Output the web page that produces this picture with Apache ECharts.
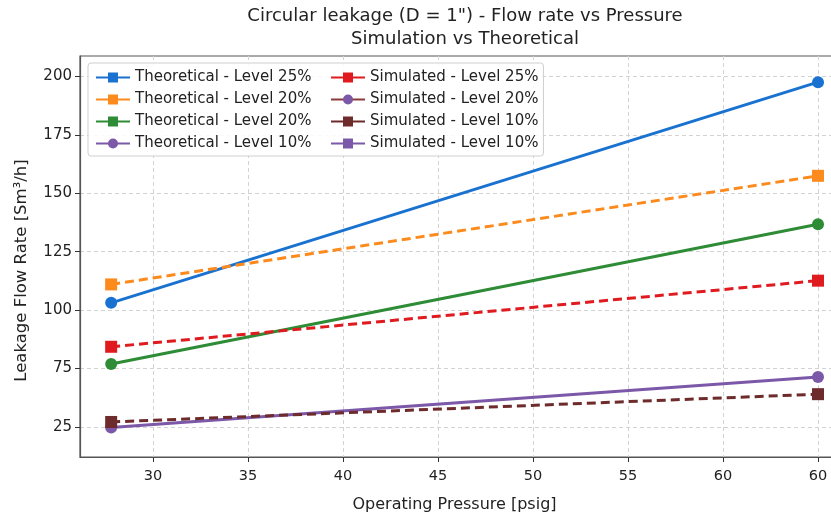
<!DOCTYPE html>
<html>
<head>
<meta charset="utf-8">
<script src="https://cdn.jsdelivr.net/npm/echarts@6/dist/echarts.min.js"></script>
<style>
  html, body { margin: 0; padding: 0; background: #fff; }
  #main { width: 831px; height: 515px; }
</style>
</head>
<body>
<div id="main"></div>
<script>
// x positions of the two measurements
var pressure = [27.8, 65];

// one array per series
var theo25 = [103.1, 197.6];
var theo20a = [111.0, 157.5];
var theo20b = [76.9, 136.8];
var theo10 = [49.7, 71.4];
var sim25 = [84.3, 112.6];
var sim20 = [];
var sim10a = [52.1, 64.0];
var sim10b = [];

var seriesLabels = [
    'Theoretical - Level 25%', 'Theoretical - Level 20%',
    'Theoretical - Level 20%', 'Theoretical - Level 10%',
    'Simulated - Level 25%', 'Simulated - Level 20%',
    'Simulated - Level 10%', 'Simulated - Level 10%'
];

// tick values and the text printed at them (as in the source image)
var xTicks = [30, 35, 40, 45, 50, 55, 60, 65];
var xTickLabels = ['30', '35', '40', '45', '50', '55', '60', '60'];
var yTicks = [50, 75, 100, 125, 150, 175, 200];
var yTickLabels = ['25', '75', '100', '125', '150', '175', '200'];

var font = 'DejaVu Sans';

function pts(ys, mark) {
    return ys.map(function (y, i) {
        var d = { value: [pressure[i], y] };
        if (mark) d.symbol = mark;
        return d;
    });
}

// legend symbol is set on the series, the plotted marker on each point
function makeSeries(idx, ys, lineColor, markColor, legendSym, plotSym, dashed) {
    return {
        name: 's' + idx,
        type: 'line',
        data: pts(ys, plotSym),
        symbol: legendSym,
        symbolSize: 12,
        showSymbol: true,
        itemStyle: { color: markColor },
        lineStyle: {
            color: lineColor,
            width: 3,
            type: dashed ? [9, 5] : 'solid'
        },
        emphasis: { disabled: true },
        animation: false
    };
}

var series = [
    makeSeries(0, theo25, '#1a72d0', '#1a72d0', 'rect', 'circle', false),
    makeSeries(1, theo20a, '#fd8a1c', '#fd8a1c', 'rect', 'rect', true),
    makeSeries(2, theo20b, '#2e8b36', '#2e8b36', 'rect', 'circle', false),
    makeSeries(3, theo10, '#7b58a8', '#7b58a8', 'circle', 'circle', false),
    makeSeries(4, sim25, '#e01b1f', '#e01b1f', 'rect', 'rect', true),
    makeSeries(5, sim20, '#8a3a3a', '#7b58a8', 'circle', 'circle', true),
    makeSeries(6, sim10a, '#6e2b2b', '#6e2b2b', 'rect', 'rect', true),
    makeSeries(7, sim10b, '#7b58a8', '#7b58a8', 'rect', 'rect', false)
];

function legendFormatter(name) {
    return seriesLabels[parseInt(name.slice(1), 10)];
}

var legendCommon = {
    orient: 'vertical',
    itemWidth: 34,
    itemHeight: 12.5,
    itemGap: 7,
    selectedMode: false,
    formatter: legendFormatter,
    textStyle: { fontFamily: font, fontSize: 15, color: '#222' },
    lineStyle: { width: 2, type: 'solid' }
};

var myChart = echarts.init(document.getElementById('main'));
var option = {
    backgroundColor: '#ffffff',
    animation: false,
    title: {
        text: 'Circular leakage (D = 1") - Flow rate vs Pressure\nSimulation vs Theoretical',
        left: 465,
        top: 5,
        padding: 0,
        textAlign: 'center',
        textStyle: {
            fontFamily: font,
            fontSize: 18,
            fontWeight: 'normal',
            color: '#222',
            lineHeight: 23
        }
    },
    legend: [
        Object.assign({}, legendCommon, {
            data: ['s0', 's1', 's2', 's3'],
            left: 88,
            top: 63,
            padding: [7, 232, 5, 7],
            backgroundColor: 'rgba(255,255,255,0.85)',
            borderColor: '#cfcfcf',
            borderWidth: 1,
            borderRadius: 3
        }),
        Object.assign({}, legendCommon, {
            data: ['s4', 's5', 's6', 's7'],
            left: 330,
            top: 70,
            padding: 0
        })
    ],
    grid: {
        left: 80,
        right: -10,
        top: 56,
        bottom: 58,
        outerBoundsMode: 'none',
        show: true,
        borderColor: '#555',
        borderWidth: 1.2,
        backgroundColor: 'transparent'
    },
    xAxis: {
        type: 'value',
        min: 26.16,
        max: 66.21,
        name: 'Operating Pressure [psig]',
        nameLocation: 'middle',
        nameGap: 40,
        nameTextStyle: { fontFamily: font, fontSize: 16, color: '#222', padding: [0, 0, 0, -12] },
        axisLine: { show: true, lineStyle: { color: '#555', width: 1.2 } },
        axisTick: { show: true, length: 5, customValues: xTicks, lineStyle: { color: '#333' } },
        axisLabel: {
            customValues: xTicks,
            margin: 12,
            fontFamily: font,
            fontSize: 14.5,
            color: '#222',
            formatter: function (v) {
                var i = xTicks.indexOf(v);
                return i >= 0 ? xTickLabels[i] : '';
            }
        },
        splitLine: { show: true, lineStyle: { color: '#d3d3d3', type: [4, 3], width: 1 } }
    },
    yAxis: {
        type: 'value',
        min: 37.1,
        max: 208.8,
        name: 'Leakage Flow Rate [Sm³/h]',
        nameLocation: 'middle',
        nameGap: 50,
        nameTextStyle: { fontFamily: font, fontSize: 16.5, color: '#222', padding: [0, 28, 0, 0] },
        axisLine: { show: true, lineStyle: { color: '#555', width: 1.2 } },
        axisTick: { show: true, length: 5, customValues: yTicks, lineStyle: { color: '#333' } },
        axisLabel: {
            customValues: yTicks,
            margin: 8,
            fontFamily: font,
            fontSize: 15,
            color: '#222',
            formatter: function (v) {
                var i = yTicks.indexOf(v);
                return i >= 0 ? yTickLabels[i] : '';
            }
        },
        splitLine: { show: true, lineStyle: { color: '#d3d3d3', type: [4, 3], width: 1 } }
    },
    series: series
};

myChart.setOption(option);
</script>
</body>
</html>
